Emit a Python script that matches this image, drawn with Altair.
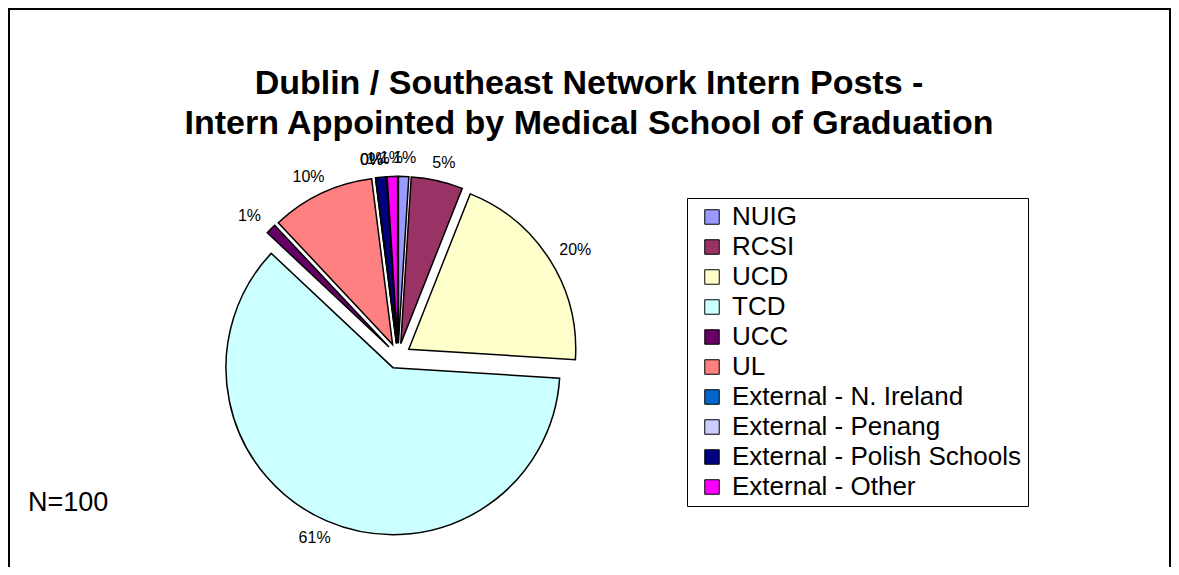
import altair as alt
import pandas as pd

schools = ["NUIG", "RCSI", "UCD", "TCD", "UCC", "UL",
           "External - N. Ireland", "External - Penang",
           "External - Polish Schools", "External - Other"]
counts = [1, 5, 20, 61, 1, 10, 0, 0, 1, 1]
colors = ["#9999FF", "#993366", "#FFFFCC", "#CCFFFF", "#660066", "#FF8080",
          "#0066CC", "#CCCCFF", "#000080", "#FF00FF"]
title_lines = ["Dublin / Southeast Network Intern Posts -",
               "Intern Appointed by Medical School of Graduation"]

W, H = 1163, 559
CX, CY, R, D = 390, 348, 167, 12.7
LRX, LRY = 210, 198
FONT = "Liberation Sans"

df = pd.DataFrame({"school": schools, "count": counts, "order": list(range(len(schools)))})

base = (
    alt.Chart(df)
    .transform_joinaggregate(total="sum(count)")
    .transform_window(cum="sum(count)", sort=[alt.SortField("order")], frame=[None, 0])
    .transform_calculate(t0="2*PI*(datum.cum - datum.count)/datum.total")
    .transform_calculate(t1="2*PI*datum.cum/datum.total")
    .transform_calculate(mid="(datum.t0 + datum.t1)/2")
    .transform_calculate(px=f"{CX} + {D}*sin(datum.mid)")
    .transform_calculate(py=f"{CY} - {D}*cos(datum.mid)")
    .transform_calculate(lx=f"{CX} + {LRX}*sin(datum.mid)")
    .transform_calculate(ly=f"{CY} - {LRY}*cos(datum.mid)")
    .transform_calculate(pct="format(datum.count/datum.total, '.0%')")
)

arcs = base.mark_arc(outerRadius=R, stroke="black", strokeWidth=1.5).encode(
    theta=alt.Theta("t0:Q", scale=None),
    theta2="t1:Q",
    x=alt.X("px:Q", scale=None, axis=None),
    y=alt.Y("py:Q", scale=None, axis=None),
    color=alt.Color(
        "school:N",
        scale=alt.Scale(domain=schools, range=colors),
        legend=alt.Legend(title=None, orient="none", legendX=679, legendY=190),
    ),
)

labels = base.mark_text(font=FONT, fontSize=16, color="black").encode(
    x=alt.X("lx:Q", scale=None, axis=None),
    y=alt.Y("ly:Q", scale=None, axis=None),
    text="pct:N",
)

n_label = (
    alt.Chart(df)
    .transform_aggregate(total="sum(count)")
    .transform_calculate(label="'N=' + datum.total")
    .mark_text(font=FONT, fontSize=27, align="left", baseline="middle", color="black")
    .encode(x=alt.value(20), y=alt.value(495), text="label:N")
)

title = (
    alt.Chart(pd.DataFrame({"k": [0]}))
    .mark_text(font=FONT, fontSize=34, fontWeight="bold", align="center",
               baseline="alphabetic", lineHeight=40, color="black")
    .encode(x=alt.value(581), y=alt.value(86), text=alt.value(title_lines))
)

frame_df = pd.DataFrame({"k": [0]})
left = alt.Chart(frame_df).mark_rule(color="black", strokeWidth=2).encode(
    x=alt.value(1), y=alt.value(0), y2=alt.value(H))
right = alt.Chart(frame_df).mark_rule(color="black", strokeWidth=2).encode(
    x=alt.value(W - 1), y=alt.value(0), y2=alt.value(H))
top = alt.Chart(frame_df).mark_rule(color="black", strokeWidth=2).encode(
    x=alt.value(0), x2=alt.value(W), y=alt.value(1))

chart = (
    alt.layer(left, right, top, arcs, labels, n_label, title)
    .properties(width=W, height=H, padding=0,
                autosize=alt.AutoSizeParams(type="none"))
    .configure_view(stroke=None)
    .configure_legend(
        symbolType="square", symbolSize=210, symbolStrokeColor="black",
        symbolStrokeWidth=1, labelFont=FONT, labelFontSize=26, labelColor="black",
        rowPadding=4, padding=6, strokeColor="black", fillColor="white",
        symbolOffset=6, labelOffset=7, labelLimit=500, cornerRadius=0,
    )
)

chart.save("out.html", embed_options={"renderer": "svg", "actions": False})
